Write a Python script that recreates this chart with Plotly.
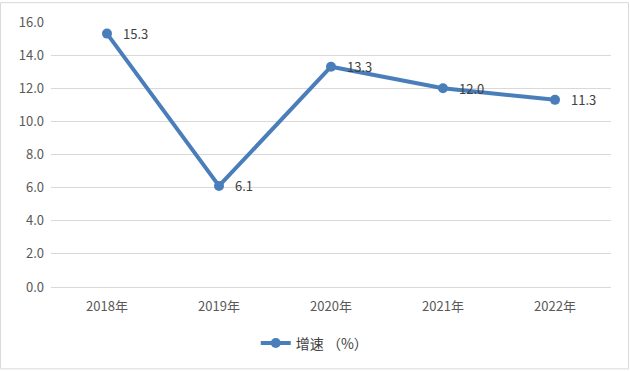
import plotly.graph_objects as go

years = ["2018年", "2019年", "2020年", "2021年", "2022年"]
growth = [15.3, 6.1, 13.3, 12.0, 11.3]
y_ticks = [0, 2, 4, 6, 8, 10, 12, 14, 16]
series_name = "增速 （%）"

W, H = 630, 371
L, R, T, B = 51, 19, 20, 84
pw, ph = W - L - R, H - T - B

fig = go.Figure()
fig.add_trace(go.Scatter(
    x=years, y=growth, mode="lines+markers", name=series_name,
    line=dict(color="#4a7ebb", width=4),
    marker=dict(color="#4a7ebb", size=10),
    cliponaxis=False,
))

for xv, yv in zip(years, growth):
    fig.add_annotation(x=xv, y=yv, text=f"{yv:.1f}", showarrow=False,
                       xanchor="left", yanchor="middle", xshift=14,
                       font=dict(size=13, color="#404040", family="Noto Sans CJK SC"))

fig.update_layout(
    width=W, height=H,
    margin=dict(l=L, r=R, t=T, b=B),
    paper_bgcolor="white", plot_bgcolor="white",
    font=dict(family="Noto Sans CJK SC", color="#595959", size=13),
    showlegend=True,
    legend=dict(orientation="h", x=0.471, xanchor="center", y=-0.213, yanchor="middle",
                font=dict(size=14, color="#404040")),
    xaxis=dict(showgrid=False, showline=False, ticks="", tickfont=dict(size=13, color="#595959"),
               range=[-0.5, 4.5], ticklabelstandoff=10),
    yaxis=dict(range=[0, 16], tickvals=y_ticks, ticktext=[f"{v:.1f}" for v in y_ticks],
               showgrid=True, gridcolor="#d9d9d9", gridwidth=1, zeroline=True,
               zerolinecolor="#d9d9d9", zerolinewidth=1, showline=False, ticks="",
               tickfont=dict(size=13, color="#595959"), ticklabelstandoff=6),
)

fig.add_shape(type="rect", xref="paper", yref="paper",
              x0=(0.5 - L) / pw, x1=(W - 1.5 - L) / pw,
              y0=-(H - 1.5 - T - ph) / ph, y1=1 + (T - 0.5) / ph,
              line=dict(color="#d9d9d9", width=1), layer="below")

fig.write_html("out.html", config={"displayModeBar": False},
               post_script="document.body.style.margin='0';document.body.style.overflow='hidden';")
